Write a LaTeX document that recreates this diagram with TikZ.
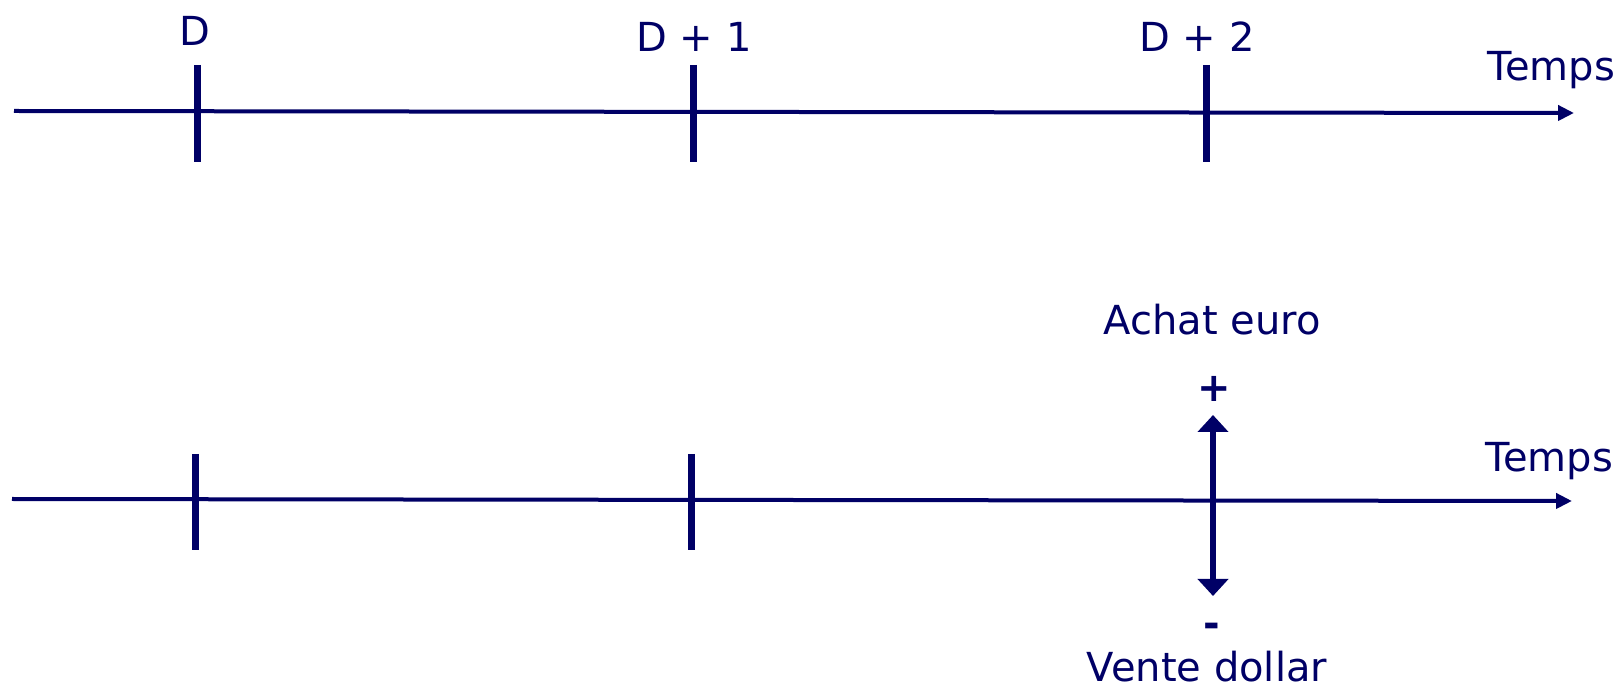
\documentclass[tikz,border=0pt]{standalone}
\usepackage{fontspec}
\setmainfont{DejaVu Sans}
\usetikzlibrary{arrows.meta, positioning}
\definecolor{navy}{RGB}{0,0,102}

\begin{document}
\begin{tikzpicture}[x=0.5pt,y=-0.5pt,
    every node/.style={text=navy,inner sep=0pt,font=\fontsize{20}{24}\selectfont}]
  \tikzstyle{axis}=[draw=navy,line width=2pt,-{Triangle[length=8pt,width=7.5pt]}]
  \tikzstyle{tick}=[draw=navy,line width=3.5pt]
  \tikzstyle{flow}=[draw=navy,line width=3pt,
    {Triangle[length=8.5pt,width=15pt]}-{Triangle[length=8.5pt,width=15pt]}]

  \useasboundingbox (0,0) rectangle (1617,694);

  % upper time line
  \coordinate (a_s) at (14,111);
  \coordinate (a_e) at (1574,113);
  \draw[axis] (a_s) -- (a_e);
  \foreach \x/\n in {197/0,693/1,1206/2} {
    \coordinate (at_\n) at (\x,65);
    \coordinate (ab_\n) at (\x,162);
    \draw[tick] (at_\n) -- (ab_\n);
  }
  \node[anchor=base] (d_0) at (195,46) {D};
  \node[anchor=base] (d_1) at (694,52) {D + 1};
  \node[anchor=base] (d_2) at (1197,52) {D + 2};
  \node[anchor=base west] (time_a) at (1487,81) {Temps};

  % lower time line
  \coordinate (b_s) at (12,499);
  \coordinate (b_e) at (1572,501);
  \draw[axis] (b_s) -- (b_e);
  \foreach \x/\n in {195/0,691/1} {
    \coordinate (bt_\n) at (\x,454);
    \coordinate (bb_\n) at (\x,550);
    \draw[tick] (bt_\n) -- (bb_\n);
  }
  \node[anchor=base west] (time_b) at (1485,472) {Temps};

  % cash flow at D + 2
  \node[anchor=base] (buy)   at (1212,335) {Achat euro};
  \node              (plus)  at (1214,389) {\textbf{+}};
  \node              (minus) at (1212,630) {\textbf{-}};
  \node[anchor=base] (sell)  at (1207,682) {Vente dollar};
  \coordinate (f_t) at (1213,415);
  \coordinate (f_b) at (1213,596);
  \draw[flow] (f_b) -- (f_t);
\end{tikzpicture}
\end{document}
